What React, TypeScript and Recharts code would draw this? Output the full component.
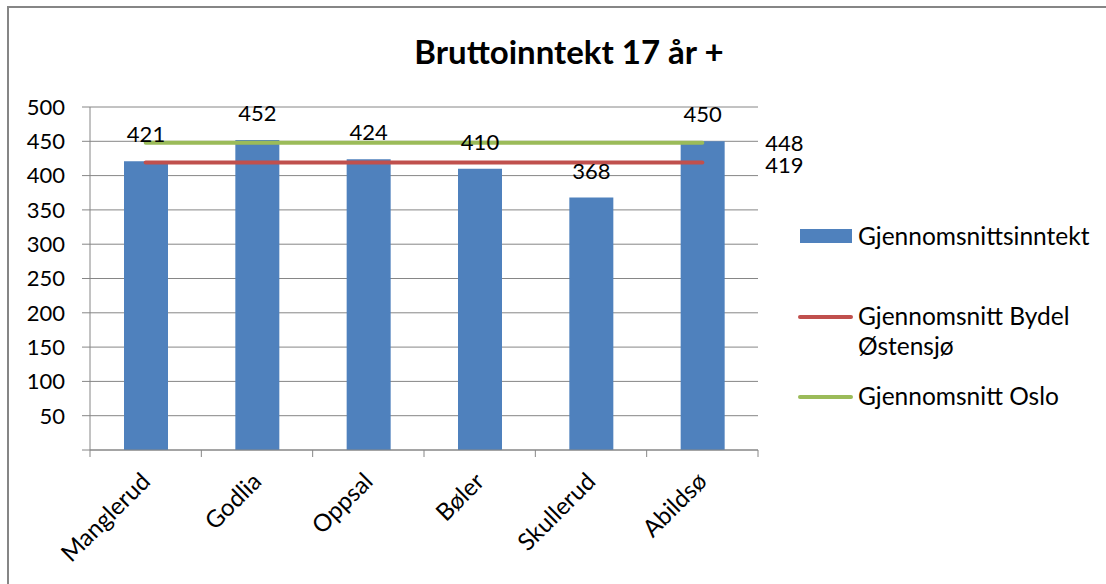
import {
  ComposedChart,
  Bar,
  Line,
  XAxis,
  YAxis,
  CartesianGrid,
  LabelList,
  Legend,
} from "recharts";

const areas = ["Manglerud", "Godlia", "Oppsal", "Bøler", "Skullerud", "Abildsø"];
const income = [421, 452, 424, 410, 368, 450];
const districtAvg = [419, 419, 419, 419, 419, 419];
const osloAvg = [448, 448, 448, 448, 448, 448];
const yTicks = [0, 50, 100, 150, 200, 250, 300, 350, 400, 450, 500];
const seriesOrder = ["Gjennomsnittsinntekt", "Gjennomsnitt Bydel Østensjø", "Gjennomsnitt Oslo"];

const FONT = "Lato, 'Open Sans', sans-serif";
const GRID = "#868686";
const W = 1106;
const H = 584;
const PLOT_LEFT = 90;
const PLOT_RIGHT = 758;
const PLOT_TOP = 107;
const PLOT_BOTTOM = 450;
const BAND = (PLOT_RIGHT - PLOT_LEFT) / areas.length;

const data = areas.map((name, i) => ({
  name,
  income: income[i],
  district: districtAvg[i],
  oslo: osloAvg[i],
}));

function AreaTick(props: any) {
  const { x, payload, index } = props;
  const edges = [x - BAND / 2];
  if (index === areas.length - 1) edges.push(x + BAND / 2);
  const tx = x + 6;
  const ty = PLOT_BOTTOM + 33;
  return (
    <g>
      {edges.map((ex) => (
        <line key={ex} x1={ex} x2={ex} y1={PLOT_BOTTOM} y2={PLOT_BOTTOM + 7} stroke={GRID} />
      ))}
      <text
        x={tx}
        y={ty}
        textAnchor="end"
        transform={`rotate(-45 ${tx} ${ty})`}
        fontFamily={FONT}
        fontSize={24}
        fill="#000"
      >
        {payload.value}
      </text>
    </g>
  );
}

function BarValue(props: any) {
  const { x, y, width, value } = props;
  return (
    <text x={x + width / 2} y={y - 19} textAnchor="middle" fontFamily={FONT} fontSize={22} fill="#000">
      {value}
    </text>
  );
}

// only the last point gets a value, placed right of the line end
function EndValue(props: any) {
  const { x, y, value, index, shift } = props;
  if (index !== areas.length - 1) return null;
  return (
    <text x={x + 63} y={y + shift} fontFamily={FONT} fontSize={22} fill="#000">
      {value}
    </text>
  );
}

function LegendBox(props: any) {
  const payload = [...(props.payload || [])].sort(
    (a: any, b: any) => seriesOrder.indexOf(a.value) - seriesOrder.indexOf(b.value),
  );
  return (
    <div style={{ position: "relative", fontFamily: FONT, fontSize: 24.5, color: "#000" }}>
      {payload.map((p: any, i: number) => (
        <div key={p.value} style={{ position: "absolute", left: 0, top: i * 80, width: 310 }}>
          <svg width={60} height={30} style={{ position: "absolute", left: 0, top: 0 }}>
            {p.type === "rect" ? (
              <rect x={4} y={8} width={52} height={14} fill={p.color} />
            ) : (
              <line x1={4} x2={55} y1={16} y2={16} stroke={p.color} strokeWidth={4} strokeLinecap="round" />
            )}
          </svg>
          <div style={{ position: "absolute", left: 62, top: 0, width: 240, lineHeight: "30px" }}>
            {p.value}
          </div>
        </div>
      ))}
    </div>
  );
}

export default function App() {
  return (
    <div style={{ position: "absolute", left: 0, top: 0, width: W, height: H, background: "#fff" }}>
      <div
        style={{
          position: "absolute",
          left: 7,
          top: 6,
          width: W,
          height: H,
          borderTop: `2px solid ${GRID}`,
          borderLeft: `2px solid ${GRID}`,
        }}
      />
      <div
        style={{
          position: "absolute",
          left: 319,
          top: 32,
          width: 500,
          textAlign: "center",
          fontFamily: FONT,
          fontWeight: 700,
          fontSize: 33,
          lineHeight: "38px",
          color: "#000",
        }}
      >
        Bruttoinntekt 17 år +
      </div>
      <ComposedChart
        width={W}
        height={H}
        data={data}
        margin={{ top: PLOT_TOP, left: PLOT_LEFT - 80, right: W - PLOT_RIGHT, bottom: H - PLOT_BOTTOM - 60 }}
        barCategoryGap={0}
      >
        <CartesianGrid vertical={false} stroke={GRID} />
        <XAxis
          dataKey="name"
          height={60}
          interval={0}
          axisLine={{ stroke: GRID }}
          tickLine={false}
          tick={<AreaTick />}
        />
        <YAxis
          width={80}
          domain={[0, 500]}
          ticks={yTicks}
          interval={0}
          tickFormatter={(v) => (v === 0 ? "" : String(v))}
          axisLine={{ stroke: GRID }}
          tickLine={{ stroke: GRID }}
          tickSize={8}
          tickMargin={17}
          tick={{ fontFamily: FONT, fontSize: 22, fill: "#000" }}
        />
        <Bar dataKey="income" name="Gjennomsnittsinntekt" fill="#4F81BD" barSize={44} isAnimationActive={false}>
          <LabelList dataKey="income" content={<BarValue />} />
        </Bar>
        <Line
          dataKey="district"
          name="Gjennomsnitt Bydel Østensjø"
          stroke="#C0504D"
          strokeWidth={4}
          strokeLinecap="round"
          dot={false}
          activeDot={false}
          legendType="line"
          isAnimationActive={false}
        >
          <LabelList dataKey="district" content={<EndValue shift={10} />} />
        </Line>
        <Line
          dataKey="oslo"
          name="Gjennomsnitt Oslo"
          stroke="#9BBB59"
          strokeWidth={4}
          strokeLinecap="round"
          dot={false}
          activeDot={false}
          legendType="line"
          isAnimationActive={false}
        >
          <LabelList dataKey="oslo" content={<EndValue shift={8} />} />
        </Line>
        <Legend
          layout="vertical"
          align="center"
          verticalAlign="middle"
          content={<LegendBox />}
          wrapperStyle={{ left: 796, top: 221, width: 310, height: 250 }}
        />
      </ComposedChart>
    </div>
  );
}
